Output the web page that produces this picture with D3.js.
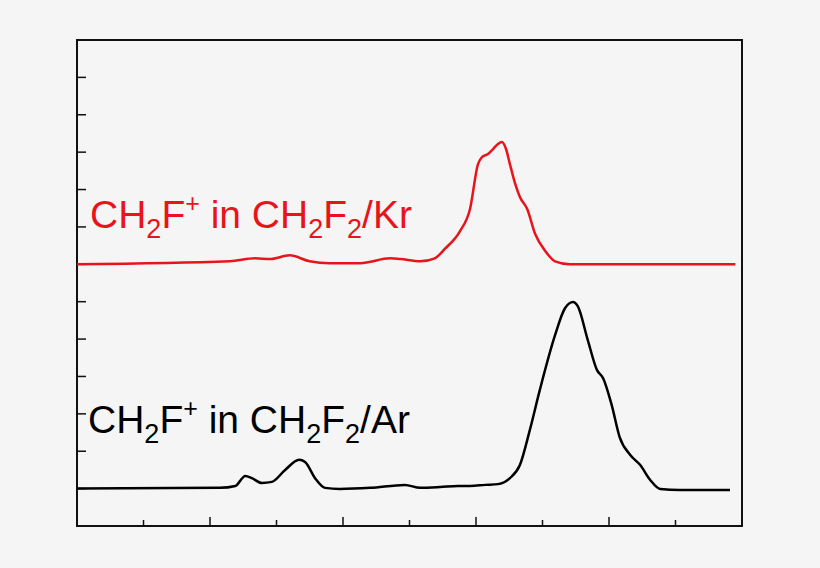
<!DOCTYPE html>
<html>
<head>
<meta charset="utf-8">
<script src="https://cdn.jsdelivr.net/npm/d3@7"></script>
<style>
  body { margin: 0; background: #f5f5f5; }
  svg { display: block; }
  text { font-family: "Liberation Sans", Arial, sans-serif; }
</style>
</head>
<body>
<svg id="chart" width="820" height="568"></svg>
<script>
// 数据 (x: 0-10, y: 0-13 arbitrary units)
var krX = [0, 2.3, 2.68, 2.9, 3.2, 3.5, 3.8, 4.26, 4.71, 4.86, 5.16, 5.38, 5.53, 5.76, 5.91, 6.03, 6.09, 6.18, 6.26, 6.33, 6.39, 6.45, 6.51, 6.59, 6.66, 6.77, 6.89, 7.04, 7.19, 7.41, 9.9];
var krY = [7.0, 7.08, 7.16, 7.14, 7.24, 7.08, 7.03, 7.03, 7.16, 7.14, 7.08, 7.16, 7.41, 7.89, 8.48, 9.68, 9.87, 9.95, 10.09, 10.22, 10.27, 10.09, 9.68, 9.15, 8.8, 8.48, 7.81, 7.36, 7.08, 7.0, 7.0];
var arX = [0, 2.15, 2.38, 2.53, 2.63, 2.78, 2.93, 3.13, 3.34, 3.43, 3.58, 3.73, 3.95, 4.41, 4.93, 5.16, 5.46, 5.73, 5.91, 6.14, 6.33, 6.51, 6.66, 6.81, 6.96, 7.19, 7.34, 7.46, 7.53, 7.68, 7.82, 7.91, 8.04, 8.16, 8.32, 8.47, 8.62, 8.77, 9.07, 9.82];
var arY = [1.0, 1.02, 1.07, 1.34, 1.28, 1.15, 1.18, 1.5, 1.77, 1.71, 1.28, 1.02, 0.99, 1.02, 1.10, 1.02, 1.04, 1.07, 1.07, 1.10, 1.12, 1.28, 1.63, 2.57, 3.64, 5.11, 5.83, 5.99, 5.88, 4.98, 4.17, 3.96, 3.24, 2.38, 1.9, 1.63, 1.23, 0.99, 0.96, 0.96];
var xTicks = d3.range(0, 11);
var yTicks = d3.range(0, 14);

var svg = d3.select("#chart");
var pLeft = 77, pRight = 742, pTop = 40, pBottom = 526;

var x = d3.scaleLinear().domain([0, 10]).range([pLeft, pRight]);
var y = d3.scaleLinear().domain([0, 13]).range([pBottom, pTop]);

//外框
svg.append("rect")
    .attr("x", pLeft).attr("y", pTop)
    .attr("width", pRight - pLeft).attr("height", pBottom - pTop)
    .attr("fill", "#f5f5f5").attr("stroke", "#111").attr("stroke-width", 2);

//刻度
svg.selectAll(".xt").data(xTicks.slice(1, 10)).enter().append("line")
    .attr("x1", d => x(d)).attr("x2", d => x(d))
    .attr("y1", pBottom).attr("y2", d => pBottom - (d % 2 == 0 ? 9 : 6))
    .attr("stroke", "#111").attr("stroke-width", 1.5);
svg.selectAll(".yt").data(yTicks.slice(1, 13)).enter().append("line")
    .attr("y1", d => y(d)).attr("y2", d => y(d))
    .attr("x1", pLeft).attr("x2", pLeft + 9)
    .attr("stroke", "#111").attr("stroke-width", 1.5);

var line = d3.line().x(d => x(d[0])).y(d => y(d[1])).curve(d3.curveMonotoneX);

svg.append("path").datum(d3.zip(krX, krY)).attr("d", line)
    .attr("fill", "none").attr("stroke", "#e8141b").attr("stroke-width", 2.5);
svg.append("path").datum(d3.zip(arX, arY)).attr("d", line)
    .attr("fill", "none").attr("stroke", "#000").attr("stroke-width", 2.5);

function label(tx, ty, color, gas) {
    var t = svg.append("text").attr("x", tx).attr("y", ty)
        .attr("font-size", 39).attr("fill", color);
    t.append("tspan").text("CH");
    t.append("tspan").text("2").attr("font-size", 27).attr("dy", 10);
    t.append("tspan").text("F").attr("dy", -10);
    t.append("tspan").text("+").attr("font-size", 25).attr("dy", -16);
    t.append("tspan").text(" in CH").attr("dy", 16);
    t.append("tspan").text("2").attr("font-size", 27).attr("dy", 10);
    t.append("tspan").text("F").attr("dy", -10);
    t.append("tspan").text("2").attr("font-size", 27).attr("dy", 10);
    t.append("tspan").text("/" + gas).attr("dy", -10);
}
label(90, 228, "#e8141b", "Kr");
label(88, 433, "#000", "Ar");
</script>
</body>
</html>
